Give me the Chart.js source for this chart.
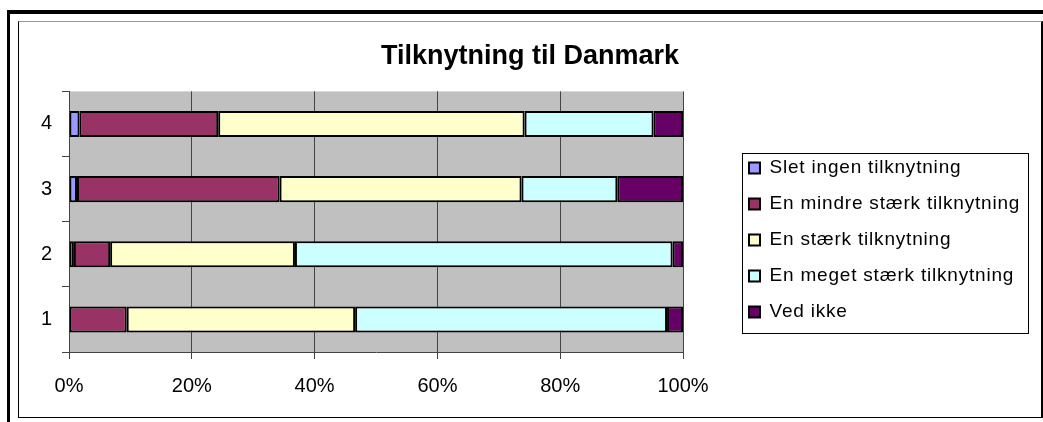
<!DOCTYPE html>
<html>
<head>
<meta charset="utf-8">
<script src="https://cdn.jsdelivr.net/npm/chart.js@4.4.0/dist/chart.umd.min.js"></script>
<style>
    body { margin: 0; background: #fff; }
    #outer { position: absolute; left: 7px; top: 10px; width: 1100px; height: 500px; border-left: 3px solid #000; border-top: 4px solid #000; }
    #inner { position: absolute; left: 18px; top: 21px; width: 1022px; height: 395px; border: 1px solid #000; border-top-color: #999; border-right-width: 2px; }
    #chart { position: absolute; left: 0; top: 0; }
</style>
</head>
<body>
<div id="outer"></div>
<div id="inner"></div>
<canvas id="chart" width="1043" height="422"></canvas>
<script>
// categories (bottom to top) and the five answer groups, in percent
const categories = ['1', '2', '3', '4'];
const seriesNames = ['Slet ingen tilknytning', 'En mindre stærk tilknytning', 'En stærk tilknytning', 'En meget stærk tilknytning', 'Ved ikke'];
const sletIngen = [0, 0.8, 1.3, 1.7];
const mindreStaerk = [9.4, 5.9, 33.0, 22.6];
const staerk = [37.2, 30.1, 39.4, 49.9];
const megetStaerk = [50.8, 61.5, 15.6, 21.0];
const vedIkke = [2.6, 1.7, 10.7, 4.8];
const xTicks = [0, 20, 40, 60, 80, 100];

const colors = ['#9999ff', '#993366', '#ffffcc', '#ccffff', '#660066'];
const FONT = 'Arial, "Liberation Sans", sans-serif';

const seriesData = [sletIngen, mindreStaerk, staerk, megetStaerk, vedIkke];

// gray plot area like the old Excel charts
const plotBg = {
    id: 'plotBg',
    beforeDraw(chart) {
        const { ctx, chartArea: a } = chart;
        ctx.save();
        ctx.fillStyle = '#c0c0c0';
        ctx.fillRect(a.left, a.top, a.width, a.height);
        ctx.restore();
    }
};

// reserve room on the right for the legend and put it in a bordered box
const legendBox = {
    id: 'legendBox',
    beforeInit(chart) {
        const lg = chart.legend;
        const fit = lg.fit;
        lg.fit = function () {
            fit.call(this);
            this.width = 360;
        };
        const draw = lg.draw;
        lg.draw = function () {
            const ctx = this.ctx;
            ctx.save();
            ctx.strokeStyle = '#000';
            ctx.lineWidth = 1;
            ctx.strokeRect(742.5, 153.5, 286, 180);
            ctx.translate(49, 23);
            ctx.letterSpacing = '0.8px';
            draw.call(this);
            ctx.restore();
        };
    }
};

const ctx = document.getElementById('chart').getContext('2d');

new Chart(ctx, {
    type: 'bar',
    data: {
        labels: categories,
        datasets: seriesNames.map((name, i) => ({
            label: name,
            data: seriesData[i],
            backgroundColor: colors[i],
            borderColor: '#000',
            borderWidth: 2,
            borderSkipped: false,
            categoryPercentage: 1,
            barPercentage: 0.4
        }))
    },
    options: {
        indexAxis: 'y',
        responsive: false,
        animation: false,
        layout: { padding: { left: 17, top: 22, right: 0, bottom: 10 } },
        scales: {
            x: {
                stacked: true,
                min: 0,
                max: 100,
                afterBuildTicks: (scale) => { scale.ticks = xTicks.map(v => ({ value: v })); },
                afterFit: (scale) => { scale.height = 60; },
                grid: { color: '#444', tickLength: 7, tickColor: '#444' },
                border: { color: '#444' },
                ticks: {
                    color: '#000',
                    padding: 15,
                    autoSkip: false,
                    maxRotation: 0,
                    font: { family: FONT, size: 20 },
                    callback: (v) => v + '%'
                }
            },
            y: {
                stacked: true,
                reverse: true,
                afterFit: (scale) => { scale.width = 52; },
                grid: { offset: true, drawOnChartArea: false, tickLength: 7, color: '#444' },
                border: { color: '#444' },
                ticks: {
                    color: '#000',
                    padding: 10,
                    font: { family: FONT, size: 20 }
                }
            }
        },
        plugins: {
            title: {
                display: true,
                text: 'Tilknytning til Danmark',
                color: '#000',
                font: { family: FONT, size: 27, weight: 'bold' },
                padding: { top: 18, bottom: 19 }
            },
            legend: {
                position: 'right',
                align: 'center',
                labels: {
                    color: '#000',
                    boxWidth: 11,
                    boxHeight: 11,
                    padding: 17,
                    font: { family: FONT, size: 19 }
                }
            },
            tooltip: { enabled: false }
        }
    },
    plugins: [plotBg, legendBox]
});
</script>
</body>
</html>
